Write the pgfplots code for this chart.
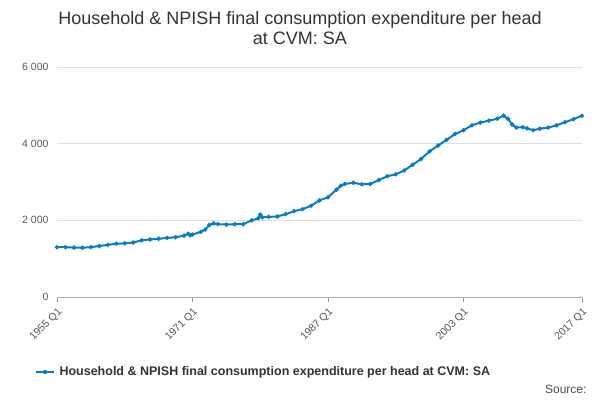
\documentclass[border=0pt]{standalone}
\usepackage{pgfplots}
\pgfplotsset{compat=1.18}
\usepackage{fontspec}
\setmainfont{Liberation Sans}
\definecolor{ln}{HTML}{0B7CC1}
\begin{document}
\begin{tikzpicture}[x=1pt,y=1pt]
\path[use as bounding box] (0,0) rectangle (600,400);
\node[font=\fontsize{18}{20}\selectfont, color=black!80, align=center] at (300,372) {Household \& NPISH final consumption expenditure per head\\at CVM: SA};
\begin{axis}[at={(57pt,103pt)}, anchor=origin, scale only axis, width=525pt, height=230pt,
  xmin=1955, xmax=2017, ymin=0, ymax=6000,
  axis y line=left, axis x line=bottom, axis line style={draw=none},
  x axis line style={draw=black!30},
  ytick={0,2000,4000,6000}, yticklabels={0,2 000,4 000,6 000},
  ymajorgrids, grid style={black!12},
  ytick style={draw=none},
  xtick={1955,1971,1987,2003,2017}, xticklabels={1955 Q1,1971 Q1,1987 Q1,2003 Q1,2017 Q1},
  xtick style={draw=black!40}, tick align=outside, major tick length=5pt,
  x tick label style={rotate=45, anchor=north east, font=\fontsize{10.5}{12}\selectfont, color=black!65},
  y tick label style={font=\fontsize{10.5}{12}\selectfont, color=black!65},
  clip=false]
\addplot[ln, line width=2pt, mark=*, mark size=1pt] coordinates {
(1955,1300)(1956,1300)(1957,1290)(1958,1285)(1959,1300)(1960,1330)(1961,1360)(1962,1390)(1963,1400)(1964,1420)(1965,1480)(1966,1500)(1967,1520)(1968,1540)(1969,1560)(1970,1600)(1970.5,1650)(1970.75,1610)(1971,1630)(1972,1700)(1972.5,1760)(1973,1880)(1973.5,1920)(1974,1900)(1975,1890)(1976,1900)(1977,1900)(1978,2000)(1978.75,2050)(1979,2150)(1979.25,2080)(1980,2090)(1981,2100)(1982,2160)(1983,2240)(1984,2290)(1985,2380)(1986,2520)(1987,2600)(1988,2800)(1988.5,2900)(1989,2950)(1990,2980)(1991,2940)(1992,2950)(1993,3050)(1994,3150)(1995,3200)(1996,3300)(1997,3450)(1998,3600)(1999,3800)(2000,3950)(2001,4100)(2002,4250)(2003,4350)(2004,4480)(2005,4550)(2006,4600)(2007,4650)(2007.75,4730)(2008.25,4650)(2008.75,4500)(2009.25,4420)(2010,4430)(2010.5,4400)(2011.25,4350)(2012,4390)(2013,4420)(2014,4480)(2015,4560)(2016,4640)(2017,4730)};
\end{axis}
\draw[ln, line width=2pt] (36,28) -- (54,28);
\fill[ln] (45,28) circle (2.2pt);
\node[anchor=west, font=\bfseries\fontsize{12.5}{14}\selectfont, color=black!80] at (56,28) {Household \& NPISH final consumption expenditure per head at CVM: SA};
\node[anchor=east, font=\fontsize{12}{14}\selectfont, color=black!70] at (590,11) {Source:};
\end{tikzpicture}
\end{document}
